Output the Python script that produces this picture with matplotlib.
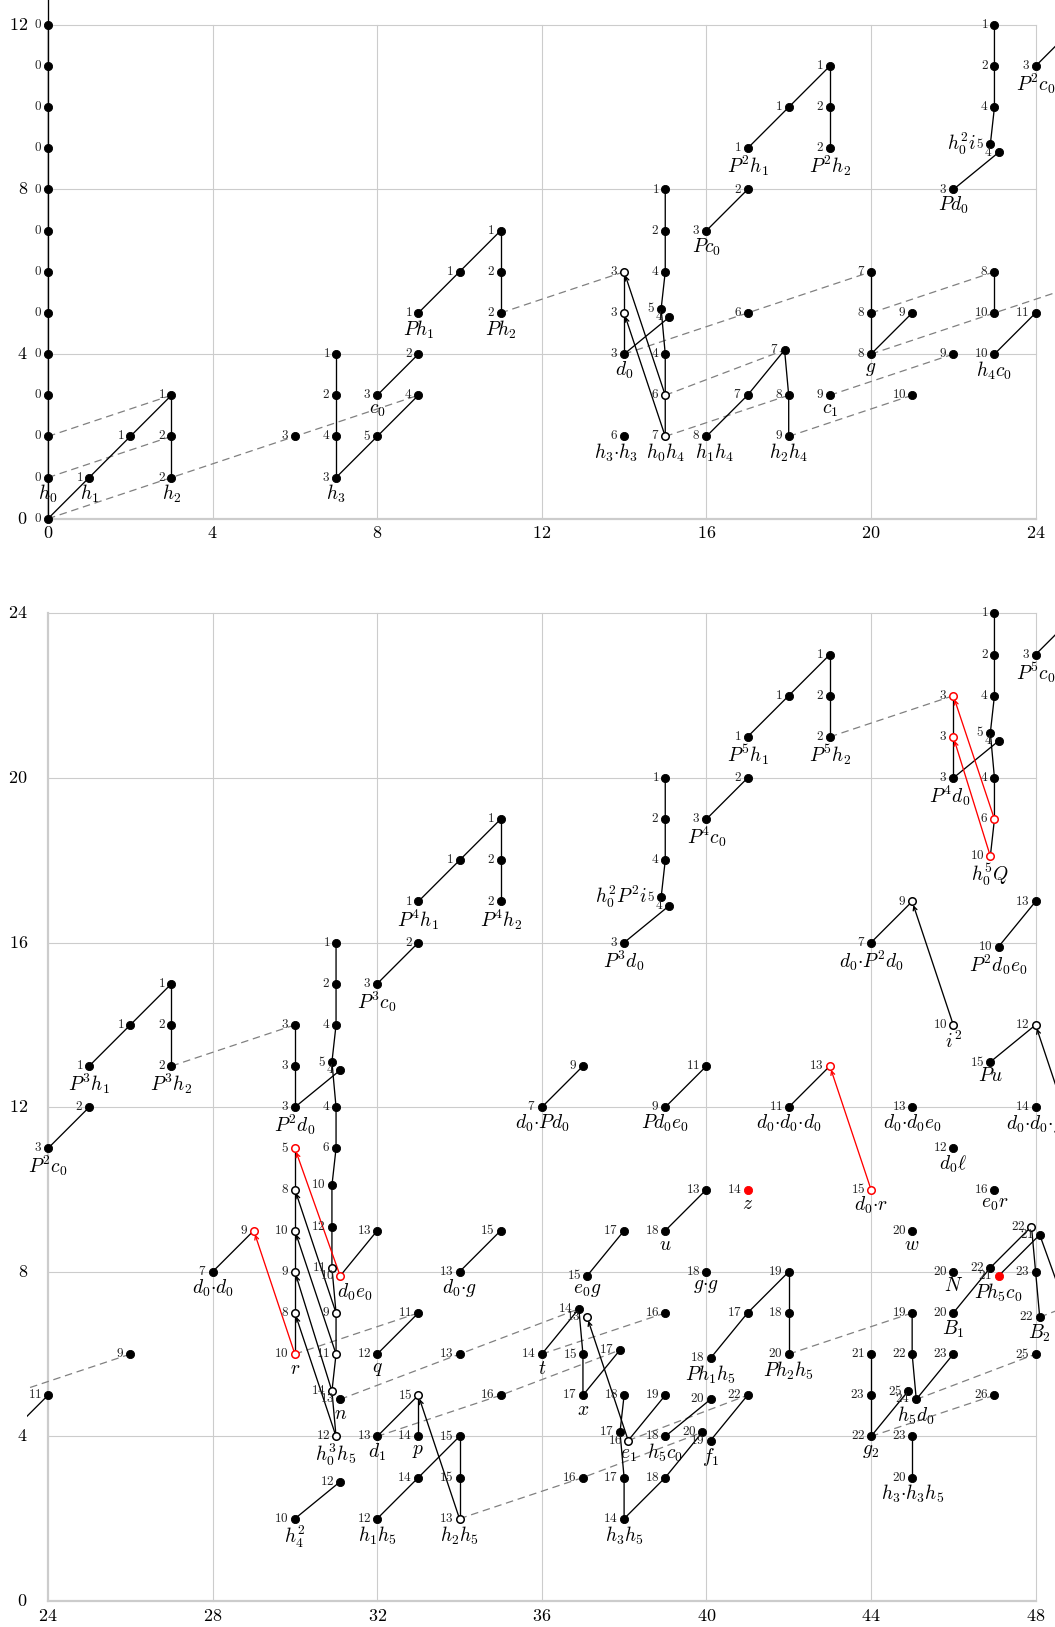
import matplotlib
matplotlib.use("Agg")
import matplotlib.pyplot as plt

plt.rcParams["mathtext.fontset"] = "cm"
plt.rcParams["font.family"] = ["DejaVu Serif"]

# ======================= DATA =======================
# node: (stem, filtration, tag, name, kind)  kind: f=filled, o=open, ro=red open, rf=red filled
top_nodes = [
    (0, 0, 0, None, 'f'), (0, 1, 0, 'h_0', 'f'), (0, 2, 0, None, 'f'), (0, 3, 0, None, 'f'),
    (0, 4, 0, None, 'f'), (0, 5, 0, None, 'f'), (0, 6, 0, None, 'f'), (0, 7, 0, None, 'f'),
    (0, 8, 0, None, 'f'), (0, 9, 0, None, 'f'), (0, 10, 0, None, 'f'), (0, 11, 0, None, 'f'),
    (0, 12, 0, None, 'f'),
    (1, 1, 1, 'h_1', 'f'), (2, 2, 1, None, 'f'), (3, 3, 1, None, 'f'),
    (3, 2, 2, None, 'f'), (3, 1, 2, 'h_2', 'f'),
    (6, 2, 3, None, 'f'),
    (7, 1, 3, 'h_3', 'f'), (7, 2, 4, None, 'f'), (7, 3, 2, None, 'f'), (7, 4, 1, None, 'f'),
    (8, 2, 5, None, 'f'), (9, 3, 4, None, 'f'), (8, 3, 3, 'c_0', 'f'), (9, 4, 2, None, 'f'),
    (9, 5, 1, 'Ph_1', 'f'), (10, 6, 1, None, 'f'), (11, 7, 1, None, 'f'),
    (11, 6, 2, None, 'f'), (11, 5, 2, 'Ph_2', 'f'),
    (14, 2, 6, r'h_3{\cdot}h_3', 'f'), (14, 4, 3, 'd_0', 'f'), (14, 5, 3, None, 'o'),
    (14, 6, 3, None, 'o'),
    (15, 2, 7, 'h_0h_4', 'o'), (15, 3, 6, None, 'o'), (15, 4, 4, None, 'f'),
    (14.9, 5.1, 5, None, 'f'), (15.1, 4.9, 4, None, 'f'),
    (15, 6, 4, None, 'f'), (15, 7, 2, None, 'f'), (15, 8, 1, None, 'f'),
    (16, 2, 8, 'h_1h_4', 'f'), (17, 3, 7, None, 'f'), (17.9, 4.1, 7, None, 'f'),
    (18, 3, 8, None, 'f'), (18, 2, 9, 'h_2h_4', 'f'),
    (16, 7, 3, 'Pc_0', 'f'), (17, 8, 2, None, 'f'), (17, 5, 6, None, 'f'),
    (17, 9, 1, 'P^2h_1', 'f'), (18, 10, 1, None, 'f'), (19, 11, 1, None, 'f'),
    (19, 10, 2, None, 'f'), (19, 9, 2, 'P^2h_2', 'f'),
    (19, 3, 9, 'c_1', 'f'), (20, 4, 8, 'g', 'f'), (20, 5, 8, None, 'f'), (20, 6, 7, None, 'f'),
    (21, 5, 9, None, 'f'), (21, 3, 10, None, 'f'), (22, 4, 9, None, 'f'),
    (22, 8, 3, 'Pd_0', 'f'), (23.1, 8.9, 4, None, 'f'), (22.9, 9.1, 5, None, 'f'),
    (23, 10, 4, None, 'f'), (23, 11, 2, None, 'f'), (23, 12, 1, None, 'f'),
    (23, 4, 10, 'h_4c_0', 'f'), (23, 5, 10, None, 'f'), (23, 6, 8, None, 'f'),
    (24, 5, 11, None, 'f'), (24, 11, 3, 'P^2c_0', 'f'),
]
top_side_names = [(22.9, 9.1, 'h_0^2i')]

top_lines = [
    [(0, 0), (0, 13)],
    [(0, 0), (1, 1), (2, 2), (3, 3)],
    [(3, 1), (3, 2), (3, 3)],
    [(7, 1), (7, 2), (7, 3), (7, 4)],
    [(7, 1), (8, 2), (9, 3)],
    [(8, 3), (9, 4)],
    [(9, 5), (10, 6), (11, 7)],
    [(11, 5), (11, 6), (11, 7)],
    [(14, 4), (14, 5), (14, 6)],
    [(14, 4), (15.1, 4.9)],
    [(15, 8), (15, 7), (15, 6), (14.9, 5.1), (15, 4), (15, 3), (15, 2)],
    [(16, 7), (17, 8)],
    [(17, 9), (18, 10), (19, 11)],
    [(19, 9), (19, 10), (19, 11)],
    [(16, 2), (17, 3), (17.9, 4.1)],
    [(17.9, 4.1), (18, 3), (18, 2)],
    [(20, 4), (20, 5), (20, 6)],
    [(20, 4), (21, 5)],
    [(23, 6), (23, 5)],
    [(23, 4), (24, 5)],
    [(22, 8), (23.1, 8.9)],
    [(23, 12), (23, 11), (23, 10), (22.9, 9.1)],
    [(24, 11), (25, 12)],
]
top_dashed = [
    [(0, 0), (3, 1), (6, 2), (9, 3)],
    [(0, 1), (3, 2)],
    [(0, 2), (3, 3)],
    [(11, 5), (14, 6)],
    [(14, 4), (17, 5), (20, 6)],
    [(15, 3), (17.9, 4.1)],
    [(15, 2), (18, 3)],
    [(18, 2), (21, 3)],
    [(19, 3), (22, 4)],
    [(20, 5), (23, 6)],
    [(20, 4), (23, 5), (26, 6)],
]
top_arrows = [
    ((15, 2), (14, 5), 'k'),
    ((15, 3), (14, 6), 'k'),
]

bot_nodes = [
    (23, 4, 10, None, 'f'), (23, 5, 10, None, 'f'),
    (24, 11, 3, 'P^2c_0', 'f'), (25, 12, 2, None, 'f'),
    (25, 13, 1, 'P^3h_1', 'f'), (26, 14, 1, None, 'f'), (27, 15, 1, None, 'f'),
    (27, 14, 2, None, 'f'), (27, 13, 2, 'P^3h_2', 'f'),
    (24, 5, 11, None, 'f'), (26, 6, 9, None, 'f'),
    (28, 8, 7, r'd_0{\cdot}d_0', 'f'), (29, 9, 9, None, 'ro'),
    (30, 12, 3, 'P^2d_0', 'f'), (30, 13, 3, None, 'f'), (30, 14, 3, None, 'f'),
    (30, 11, 5, None, 'ro'), (30, 10, 8, None, 'o'), (30, 9, 10, None, 'o'),
    (30, 8, 9, None, 'o'), (30, 7, 8, None, 'o'), (30, 6, 10, 'r', 'ro'),
    (30, 2, 10, 'h_4^2', 'f'), (31.1, 2.9, 12, None, 'f'),
    (31, 16, 1, None, 'f'), (31, 15, 2, None, 'f'), (31, 14, 4, None, 'f'),
    (30.9, 13.1, 5, None, 'f'), (31.1, 12.9, 4, None, 'f'), (31, 12, 4, None, 'f'),
    (31, 11, 6, None, 'f'), (30.9, 10.1, 10, None, 'f'), (30.9, 9.1, 12, None, 'f'),
    (30.9, 8.1, 11, None, 'o'), (31.1, 7.9, 10, 'd_0e_0', 'ro'),
    (31, 7, 9, None, 'o'), (31, 6, 11, None, 'o'), (30.9, 5.1, 14, None, 'o'),
    (31.1, 4.9, 13, 'n', 'f'), (31, 4, 12, 'h_0^3h_5', 'o'),
    (32, 9, 13, None, 'f'), (32, 6, 12, 'q', 'f'), (33, 7, 11, None, 'f'), (34, 6, 13, None, 'f'),
    (32, 15, 3, 'P^3c_0', 'f'), (33, 16, 2, None, 'f'),
    (33, 17, 1, 'P^4h_1', 'f'), (34, 18, 1, None, 'f'), (35, 19, 1, None, 'f'),
    (35, 18, 2, None, 'f'), (35, 17, 2, 'P^4h_2', 'f'),
    (32, 2, 12, 'h_1h_5', 'f'), (33, 3, 14, None, 'f'), (34, 4, 15, None, 'f'),
    (34, 3, 15, None, 'f'), (34, 2, 13, 'h_2h_5', 'o'),
    (32, 4, 13, 'd_1', 'f'), (33, 5, 15, None, 'o'), (33, 4, 14, 'p', 'f'), (35, 5, 16, None, 'f'),
    (34, 8, 13, r'd_0{\cdot}g', 'f'), (35, 9, 15, None, 'f'),
    (36, 12, 7, r'd_0{\cdot}Pd_0', 'f'), (37, 13, 9, None, 'f'),
    (36, 6, 14, 't', 'f'), (36.9, 7.1, 14, None, 'f'), (37.1, 6.9, 13, None, 'o'),
    (37, 6, 15, None, 'f'), (37, 5, 17, 'x', 'f'), (37.9, 6.1, 17, None, 'f'),
    (37, 3, 16, None, 'f'), (38, 5, 18, None, 'f'), (37.9, 4.1, 17, None, 'f'),
    (38.1, 3.9, 16, 'e_1', 'o'), (38, 3, 17, None, 'f'), (38, 2, 14, 'h_3h_5', 'f'),
    (37.1, 7.9, 15, 'e_0g', 'f'), (38, 9, 17, None, 'f'),
    (38, 16, 3, 'P^3d_0', 'f'), (39.1, 16.9, 4, None, 'f'), (38.9, 17.1, 5, None, 'f'),
    (39, 18, 4, None, 'f'), (39, 19, 2, None, 'f'), (39, 20, 1, None, 'f'),
    (39, 12, 9, 'Pd_0e_0', 'f'), (40, 13, 11, None, 'f'),
    (39, 9, 18, 'u', 'f'), (40, 10, 13, None, 'f'),
    (39, 7, 16, None, 'f'), (39, 5, 19, None, 'f'), (39, 4, 18, 'h_5c_0', 'f'),
    (39, 3, 18, None, 'f'), (39.9, 4.1, 20, None, 'f'), (40.1, 3.9, 19, 'f_1', 'f'),
    (40.1, 4.9, 20, None, 'f'), (41, 5, 22, None, 'f'),
    (40, 8, 18, r'g{\cdot}g', 'f'), (40.1, 5.9, 18, 'Ph_1h_5', 'f'), (41, 7, 17, None, 'f'),
    (42, 8, 19, None, 'f'), (42, 7, 18, None, 'f'), (42, 6, 20, 'Ph_2h_5', 'f'),
    (40, 19, 3, 'P^4c_0', 'f'), (41, 20, 2, None, 'f'),
    (41, 21, 1, 'P^5h_1', 'f'), (42, 22, 1, None, 'f'), (43, 23, 1, None, 'f'),
    (43, 22, 2, None, 'f'), (43, 21, 2, 'P^5h_2', 'f'),
    (41, 10, 14, 'z', 'rf'),
    (42, 12, 11, r'd_0{\cdot}d_0{\cdot}d_0', 'f'), (43, 13, 13, None, 'ro'),
    (44, 10, 15, r'd_0{\cdot}r', 'ro'),
    (44, 16, 7, r'd_0{\cdot}P^2d_0', 'f'), (45, 17, 9, None, 'o'), (46, 14, 10, 'i^2', 'o'),
    (45, 12, 13, r'd_0{\cdot}d_0e_0', 'f'), (46, 11, 12, r'd_0\ell', 'f'),
    (47, 10, 16, 'e_0r', 'f'), (45, 9, 20, 'w', 'f'), (46, 8, 20, 'N', 'f'),
    (46.9, 13.1, 15, 'Pu', 'f'), (48, 14, 12, None, 'o'),
    (48, 12, 14, r'd_0{\cdot}d_0{\cdot}g', 'f'),
    (47.1, 15.9, 10, 'P^2d_0e_0', 'f'), (48, 17, 13, None, 'f'),
    (46, 20, 3, 'P^4d_0', 'f'), (46, 21, 3, None, 'ro'), (46, 22, 3, None, 'ro'),
    (47.1, 20.9, 4, None, 'f'),
    (47, 24, 1, None, 'f'), (47, 23, 2, None, 'f'), (47, 22, 4, None, 'f'),
    (46.9, 21.1, 5, None, 'f'), (47, 20, 4, None, 'f'), (47, 19, 6, None, 'ro'),
    (46.9, 18.1, 10, 'h_0^5Q', 'ro'),
    (48, 23, 3, 'P^5c_0', 'f'),
    (46, 7, 20, 'B_1', 'f'), (46.9, 8.1, 22, None, 'f'), (47.1, 7.9, 21, 'Ph_5c_0', 'rf'),
    (47.9, 9.1, 22, None, 'o'), (48.1, 8.9, 21, None, 'f'), (48, 8, 23, None, 'f'),
    (48.1, 6.9, 22, 'B_2', 'f'),
    (44, 6, 21, None, 'f'), (44, 5, 23, None, 'f'), (44, 4, 22, 'g_2', 'f'),
    (44.9, 5.1, 25, None, 'f'), (45, 7, 19, None, 'f'), (45, 6, 22, None, 'f'),
    (45.1, 4.9, 24, 'h_5d_0', 'f'), (46, 6, 23, None, 'f'),
    (45, 4, 23, None, 'f'), (45, 3, 20, r'h_3{\cdot}h_3h_5', 'f'),
    (47, 5, 26, None, 'f'), (48, 6, 25, None, 'f'),
]
bot_side_names = [(38.9, 17.1, 'h_0^2P^2i')]

bot_lines = [
    [(24, 11), (25, 12)],
    [(25, 13), (26, 14), (27, 15)],
    [(27, 13), (27, 14), (27, 15)],
    [(23, 4), (24, 5)],
    [(28, 8), (29, 9)],
    [(30, 12), (30, 13), (30, 14)],
    [(30, 12), (31.1, 12.9)],
    [(30, 11), (30, 10), (30, 9), (30, 8), (30, 7), (30, 6)],
    [(31, 16), (31, 15), (31, 14), (30.9, 13.1), (31, 12), (31, 11), (30.9, 10.1),
     (30.9, 9.1), (30.9, 8.1), (31, 7), (31, 6), (30.9, 5.1), (31, 4)],
    [(31.1, 7.9), (32, 9)],
    [(30, 2), (31.1, 2.9)],
    [(32, 6), (33, 7)],
    [(32, 15), (33, 16)],
    [(33, 17), (34, 18), (35, 19)],
    [(35, 17), (35, 18), (35, 19)],
    [(32, 2), (33, 3), (34, 4)],
    [(34, 2), (34, 3), (34, 4)],
    [(32, 4), (33, 5)],
    [(33, 4), (33, 5)],
    [(34, 8), (35, 9)],
    [(36, 12), (37, 13)],
    [(36, 6), (36.9, 7.1)],
    [(36.9, 7.1), (37, 6), (37, 5)],
    [(37, 5), (37.9, 6.1)],
    [(38, 5), (37.9, 4.1), (38, 3), (38, 2)],
    [(38.1, 3.9), (39, 5)],
    [(38, 2), (39, 3), (39.9, 4.1)],
    [(39, 4), (40.1, 4.9)],
    [(40.1, 3.9), (41, 5)],
    [(37.1, 7.9), (38, 9)],
    [(38, 16), (39.1, 16.9)],
    [(39, 20), (39, 19), (39, 18), (38.9, 17.1)],
    [(39, 12), (40, 13)],
    [(39, 9), (40, 10)],
    [(40.1, 5.9), (41, 7), (42, 8)],
    [(42, 6), (42, 7), (42, 8)],
    [(40, 19), (41, 20)],
    [(41, 21), (42, 22), (43, 23)],
    [(43, 21), (43, 22), (43, 23)],
    [(42, 12), (43, 13)],
    [(44, 16), (45, 17)],
    [(46.9, 13.1), (48, 14)],
    [(47.1, 15.9), (48, 17)],
    [(46, 20), (46, 21), (46, 22)],
    [(46, 20), (47.1, 20.9)],
    [(47, 24), (47, 23), (47, 22), (46.9, 21.1), (47, 20), (47, 19), (46.9, 18.1)],
    [(48, 23), (49, 24)],
    [(46, 7), (46.9, 8.1), (47.9, 9.1)],
    [(47.1, 7.9), (48.1, 8.9)],
    [(47.9, 9.1), (48, 8), (48.1, 6.9)],
    [(48.1, 8.9), (49, 6.4)],
    [(44, 4), (44, 5), (44, 6)],
    [(44, 4), (44.9, 5.1)],
    [(45, 7), (45, 6), (45.1, 4.9)],
    [(45.1, 4.9), (46, 6)],
    [(45, 4), (45, 3)],
]
bot_dashed = [
    [(23, 5), (26, 6)],
    [(27, 13), (30, 14)],
    [(30, 6), (33, 7)],
    [(31.1, 4.9), (34, 6), (36.9, 7.1)],
    [(32, 4), (35, 5), (37.9, 6.1)],
    [(34, 2), (37, 3), (39.9, 4.1)],
    [(36, 6), (39, 7)],
    [(38.1, 3.9), (41, 5)],
    [(42, 6), (45, 7)],
    [(44, 4), (47, 5)],
    [(45.1, 4.9), (48, 6)],
    [(48.1, 6.9), (51, 8)],
    [(43, 21), (46, 22)],
]
bot_arrows = [
    ((31, 4), (30, 7), 'k'),
    ((30.9, 5.1), (30, 8), 'k'),
    ((31, 6), (30, 9), 'k'),
    ((31, 7), (30, 10), 'k'),
    ((34, 2), (33, 5), 'k'),
    ((38.1, 3.9), (37.1, 6.9), 'k'),
    ((46, 14), (45, 17), 'k'),
    ((49, 11), (48, 14), 'k'),
    ((31.1, 7.9), (30, 11), 'r'),
    ((30, 6), (29, 9), 'r'),
    ((44, 10), (43, 13), 'r'),
    ((47, 19), (46, 22), 'r'),
    ((46.9, 18.1), (46, 21), 'r'),
]

top_xticks = [0, 4, 8, 12, 16, 20, 24]
top_yticks = [0, 4, 8, 12]
bot_xticks = [24, 28, 32, 36, 40, 44, 48]
bot_yticks = [0, 4, 8, 12, 16, 20, 24]

name_shift = {r'h_3{\cdot}h_3': -0.2, 'h_1h_4': 0.2, 'd_0e_0': 0.35, 'P^4d_0': -0.1}

# ======================= LAYOUT =======================
W, H = 1055, 1627
X0PX = 48.0
SX = 41.15
fig = plt.figure(figsize=(W / 100, H / 100), dpi=100)

RED = '#ff0000'
STY = {
    'f': dict(ms=5.9, mfc='black', mec='black', mew=0.6),
    'o': dict(ms=5.4, mfc='white', mec='black', mew=1.1),
    'ro': dict(ms=5.4, mfc='white', mec=RED, mew=1.1),
    'rf': dict(ms=5.9, mfc=RED, mec=RED, mew=0.6),
}
PT_PER_UNIT = SX * 72 / 100.0


def make_axes(xlo, xhi, y0px, sy, ytop):
    left = X0PX - 0.5 * SX
    right = X0PX + (xhi - xlo + 0.5) * SX
    bottom = y0px + 0.5 * sy
    top = y0px - ytop * sy
    ax = fig.add_axes([left / W, 1 - bottom / H, (right - left) / W, (bottom - top) / H])
    ax.set_xlim(xlo - 0.5, xhi + 0.5)
    ax.set_ylim(-0.5, ytop)
    ax.axis('off')
    return ax


def draw_panel(ax, xlo, xhi, yhi, nodes, side_names, lines, dashed, arrows,
               xticks, yticks, xtick_off):
    grid_c = '#cccccc'
    for v in range(xlo, xhi + 1, 4):
        ax.plot([v, v], [0, yhi], color=grid_c, lw=1.6 if v == xlo else 0.8, zorder=0)
    for v in range(0, yhi + 1, 4):
        ax.plot([xlo, xhi], [v, v], color=grid_c, lw=1.6 if v == 0 else 0.8, zorder=0)
    for seg in dashed:
        ax.plot([p[0] for p in seg], [p[1] for p in seg], color='#808080', lw=0.9,
                ls=(0, (6, 3.8)), zorder=1)
    for seg in lines:
        ax.plot([p[0] for p in seg], [p[1] for p in seg], color='black', lw=0.95,
                zorder=2, solid_capstyle='butt')
    for src, dst, c in arrows:
        col = RED if c == 'r' else 'black'
        ax.annotate('', xy=dst, xytext=src,
                    arrowprops=dict(arrowstyle='->', color=col, lw=0.95, shrinkA=0,
                                    shrinkB=2.8, mutation_scale=7),
                    annotation_clip=True, zorder=3)
    for x, y, tag, name, kind in nodes:
        ax.plot([x], [y], marker='o', ls='none', zorder=4, **STY[kind])
        ax.annotate(r'$%s$' % tag, (x, y), xytext=(-4.3, 0.3), textcoords='offset points',
                    ha='right', va='center', fontsize=9.5, color='#222222',
                    annotation_clip=True, zorder=5)
        if name:
            dx = name_shift.get(name, 0.0) * PT_PER_UNIT
            ax.annotate(r'$%s$' % name, (x, y), xytext=(dx, -4.0), textcoords='offset points',
                        ha='center', va='top', fontsize=14, color='black',
                        annotation_clip=True, zorder=5)
    for x, y, name in side_names:
        ax.annotate(r'$%s$' % name, (x, y), xytext=(-10.0, 0.6), textcoords='offset points',
                    ha='right', va='center', fontsize=14, color='black',
                    annotation_clip=True, zorder=5)
    for v in xticks:
        ax.annotate(r'$%d$' % v, (v, 0), xytext=(0, xtick_off), textcoords='offset points',
                    ha='center', va='top', fontsize=13, annotation_clip=False)
    for v in yticks:
        ax.annotate(r'$%d$' % v, (xlo, v), xytext=(-14.5, 0), textcoords='offset points',
                    ha='right', va='center', fontsize=13, annotation_clip=False)


ax_top = make_axes(0, 24, 518.7, 41.15, 12.6)
draw_panel(ax_top, 0, 24, 12, top_nodes, top_side_names, top_lines, top_dashed, top_arrows,
           top_xticks, top_yticks, -3.5)

ax_bot = make_axes(24, 48, 1601.0, 41.15, 24.5)
draw_panel(ax_bot, 24, 48, 24, bot_nodes, bot_side_names, bot_lines, bot_dashed, bot_arrows,
           bot_xticks, bot_yticks, -4.5)

fig.savefig('out.png', dpi=100)
